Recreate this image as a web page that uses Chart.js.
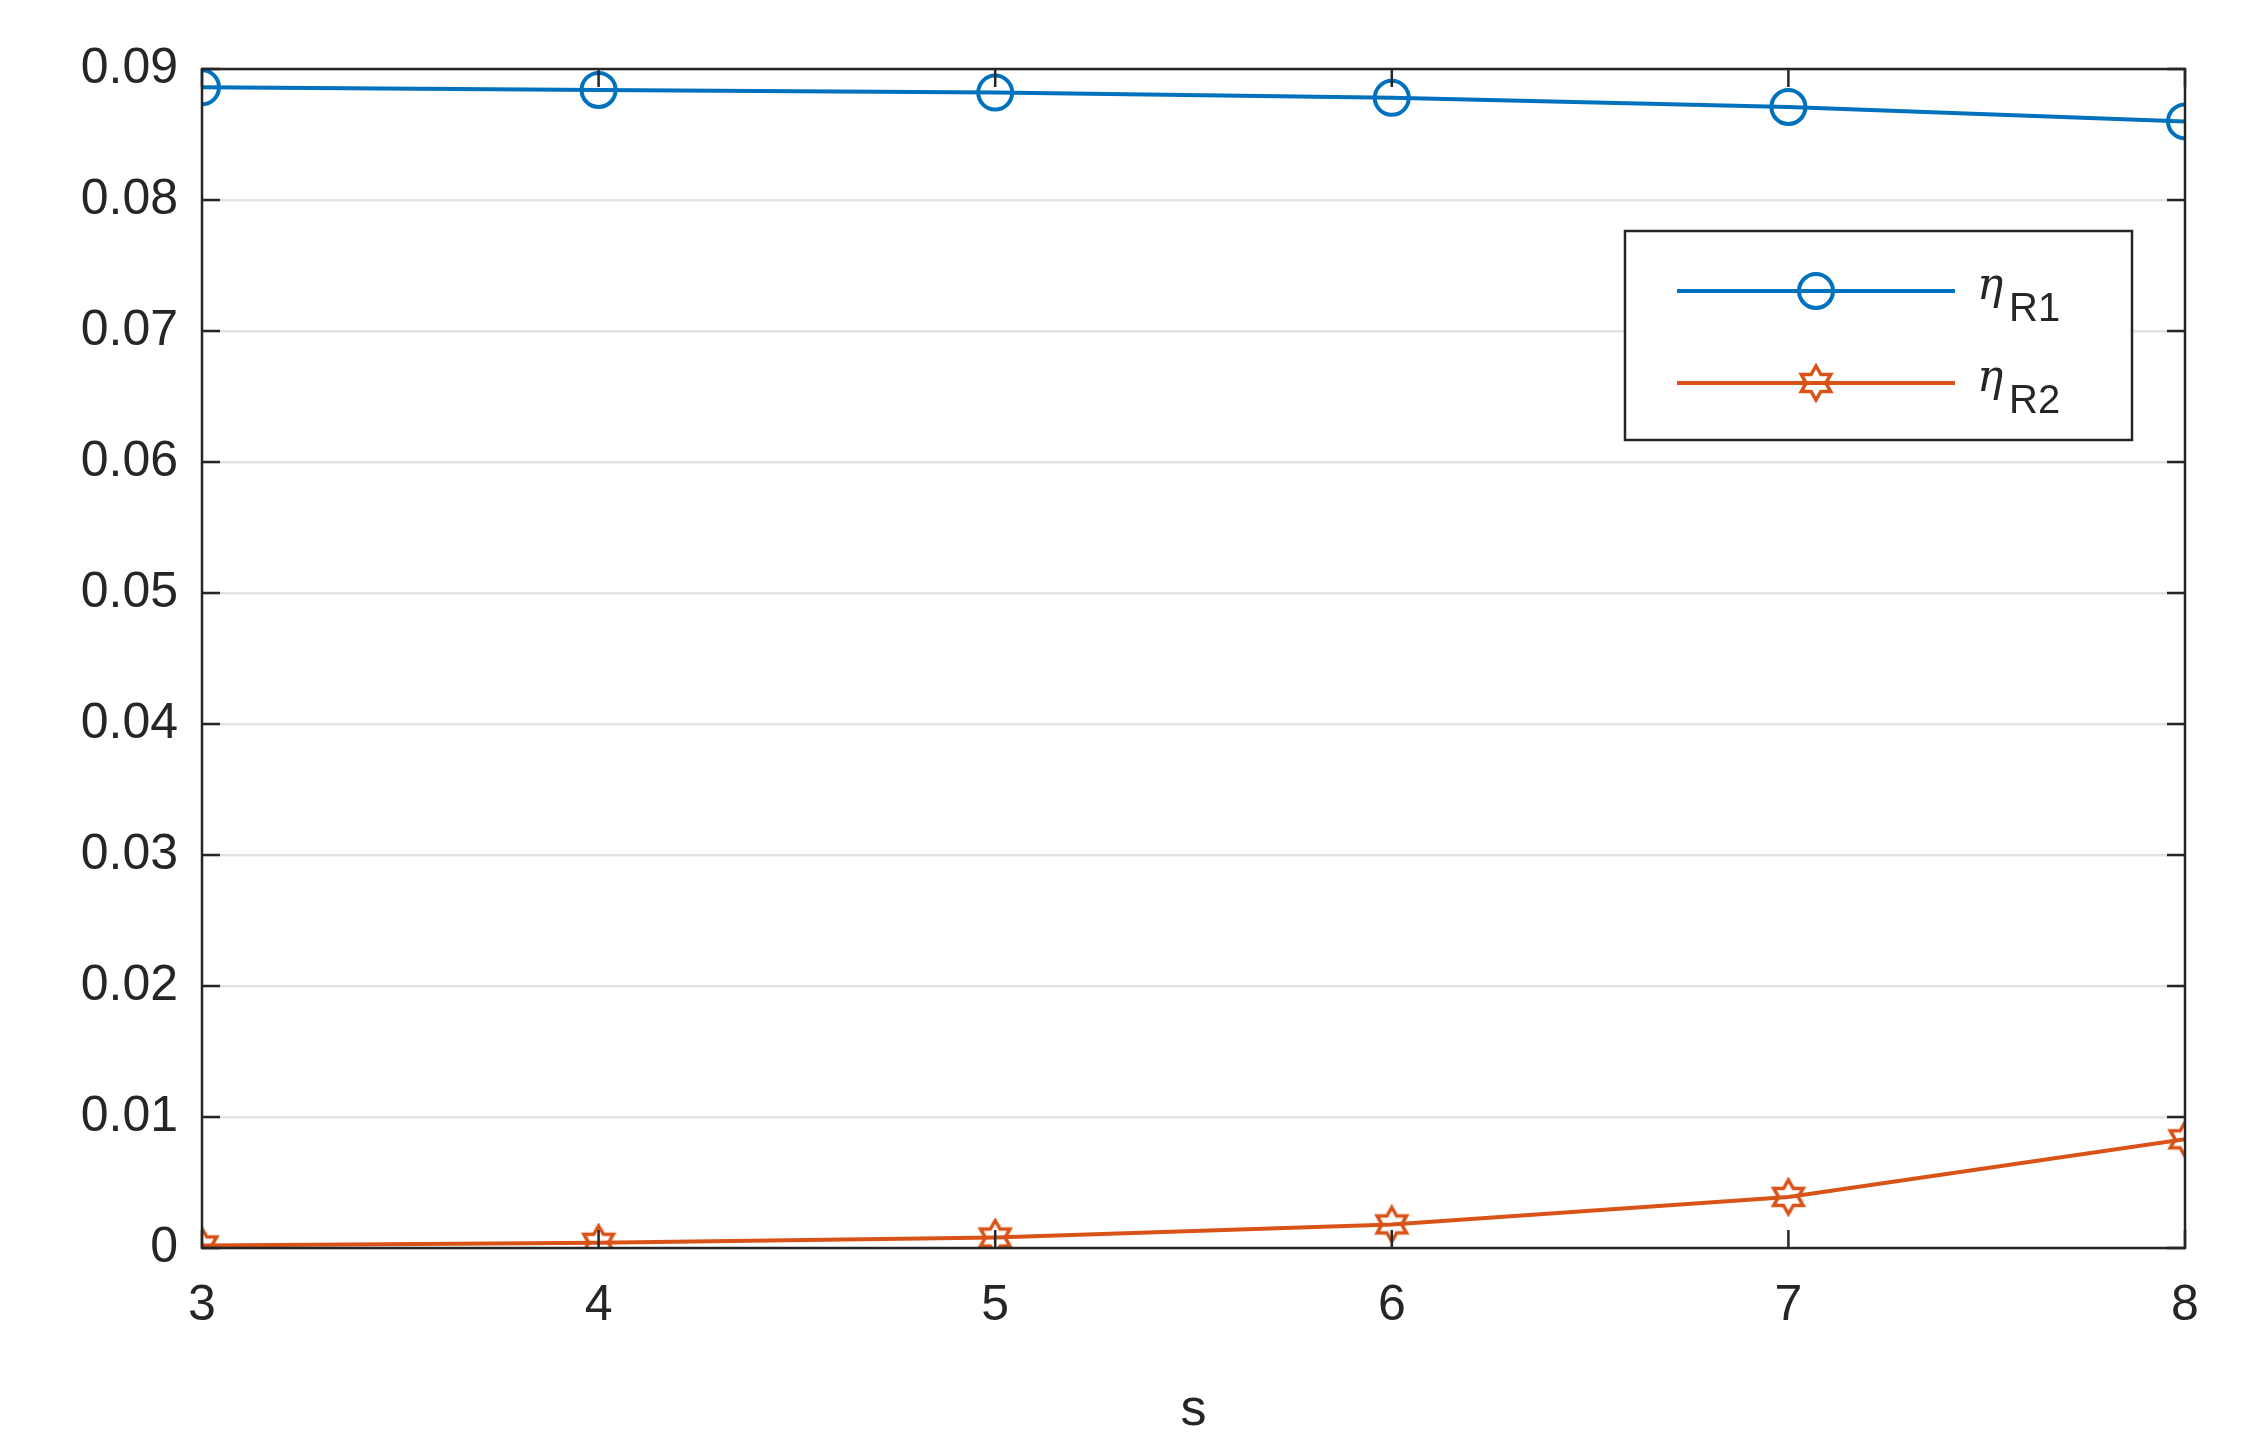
<!DOCTYPE html>
<html>
<head>
<meta charset="utf-8">
<script src="https://cdn.jsdelivr.net/npm/chart.js@4"></script>
<style>
html, body { margin: 0; padding: 0; background: #fff; }
#wrap { width: 2247px; height: 1446px; }
</style>
</head>
<body>
<div id="wrap"><canvas id="myChart" width="2247" height="1446"></canvas></div>
<script>
var sValues = [3, 4, 5, 6, 7, 8];
var etaR1 = [0.0886, 0.0884, 0.0882, 0.0878, 0.0871, 0.0860];
var etaR2 = [0.0002, 0.0004, 0.0008, 0.0018, 0.0039, 0.0083];
var yTicks = [0, 0.01, 0.02, 0.03, 0.04, 0.05, 0.06, 0.07, 0.08, 0.09];

var blue = '#0072BD';
var orange = '#D95319';
var font = "'Liberation Sans', Arial, sans-serif";

function hexagram(color, size) {
    var c = document.createElement('canvas');
    c.width = size; c.height = size;
    var g = c.getContext('2d');
    var cx = size / 2, cy = size / 2, R = size / 2 - 3, r = R * 0.577;
    g.beginPath();
    for (var i = 0; i < 12; i++) {
        var a = -Math.PI / 2 + i * Math.PI / 6;
        var rr = i % 2 === 0 ? R : r;
        var px = cx + rr * Math.cos(a), py = cy + rr * Math.sin(a);
        if (i === 0) g.moveTo(px, py); else g.lineTo(px, py);
    }
    g.closePath();
    g.strokeStyle = color;
    g.lineWidth = 3.5;
    g.stroke();
    return c;
}
var starImg = hexagram(orange, 40);

function toPoints(ys) {
    return sValues.map(function (x, i) { return { x: x, y: ys[i] }; });
}

var framePlugin = {
    id: 'frame',
    afterDatasetsDraw: function (chart) {
        var g = chart.ctx, a = chart.chartArea;
        var xs = chart.scales.x, ys = chart.scales.y;
        g.save();
        g.strokeStyle = '#262626';
        g.lineWidth = 2.5;
        g.strokeRect(a.left, a.top, a.right - a.left, a.bottom - a.top);
        var t = 18;
        g.beginPath();
        sValues.forEach(function (v) {
            var px = xs.getPixelForValue(v);
            g.moveTo(px, a.bottom); g.lineTo(px, a.bottom - t);
            g.moveTo(px, a.top); g.lineTo(px, a.top + t);
        });
        yTicks.forEach(function (v) {
            var py = ys.getPixelForValue(v);
            g.moveTo(a.left, py); g.lineTo(a.left + t, py);
            g.moveTo(a.right, py); g.lineTo(a.right - t, py);
        });
        g.stroke();

        // legend box
        var lx = 1625, ly = 231, lw = 507, lh = 209;
        g.fillStyle = '#fff';
        g.fillRect(lx, ly, lw, lh);
        g.strokeRect(lx, ly, lw, lh);
        var rows = [
            { color: blue, y: ly + 60, label: 'R1', circle: true },
            { color: orange, y: ly + 152, label: 'R2', circle: false }
        ];
        rows.forEach(function (r) {
            g.strokeStyle = r.color;
            g.lineWidth = 4;
            g.beginPath();
            g.moveTo(lx + 52, r.y); g.lineTo(lx + 330, r.y);
            g.stroke();
            if (r.circle) {
                g.beginPath();
                g.arc(lx + 191, r.y, 17, 0, Math.PI * 2);
                g.stroke();
            } else {
                g.drawImage(starImg, lx + 191 - 20, r.y - 20);
            }
            g.fillStyle = '#262626';
            g.textBaseline = 'alphabetic';
            g.font = "italic 44px 'DejaVu Serif', serif";
            g.fillText('\u03B7', lx + 352, r.y + 8);
            g.font = '40px ' + font;
            g.fillText(r.label, lx + 384, r.y + 30);
        });
        g.restore();
    }
};

var ctx = document.getElementById('myChart').getContext('2d');
var myChart = new Chart(ctx, {
    type: 'line',
    data: {
        datasets: [{
            label: '\u03B7R1',
            data: toPoints(etaR1),
            borderColor: blue,
            borderWidth: 4,
            backgroundColor: 'rgba(0,0,0,0)',
            pointStyle: 'circle',
            pointRadius: 17,
            pointBorderWidth: 4,
            pointBorderColor: blue,
            pointBackgroundColor: 'rgba(0,0,0,0)',
            fill: false,
            tension: 0
        }, {
            label: '\u03B7R2',
            data: toPoints(etaR2),
            borderColor: orange,
            borderWidth: 4,
            pointStyle: starImg,
            pointRadius: 20,
            fill: false,
            tension: 0
        }]
    },
    options: {
        responsive: false,
        animation: false,
        devicePixelRatio: 1,
        layout: { padding: { left: 0, right: 62, top: 69, bottom: 0 } },
        plugins: { legend: { display: false }, tooltip: { enabled: false } },
        scales: {
            x: {
                type: 'linear',
                min: 3, max: 8,
                afterFit: function (s) { s.height = 198; },
                afterBuildTicks: function (s) { s.ticks = sValues.map(function (v) { return { value: v }; }); },
                grid: { display: false, drawTicks: false },
                border: { display: false },
                ticks: { color: '#262626', font: { size: 50, family: font }, padding: 28 },
                title: { display: true, text: 's', color: '#262626', font: { size: 52, family: font }, padding: { top: 4 } }
            },
            y: {
                min: 0, max: 0.09,
                afterFit: function (s) { s.width = 202; },
                afterBuildTicks: function (s) { s.ticks = yTicks.map(function (v) { return { value: v }; }); },
                grid: { color: '#e3e3e3', lineWidth: 2.5, drawTicks: false },
                border: { display: false },
                ticks: {
                    color: '#262626', font: { size: 50, family: font }, padding: 24,
                    callback: function (v) { return v === 0 ? '0' : v.toFixed(2); }
                }
            }
        }
    },
    plugins: [framePlugin]
});
</script>
</body>
</html>
